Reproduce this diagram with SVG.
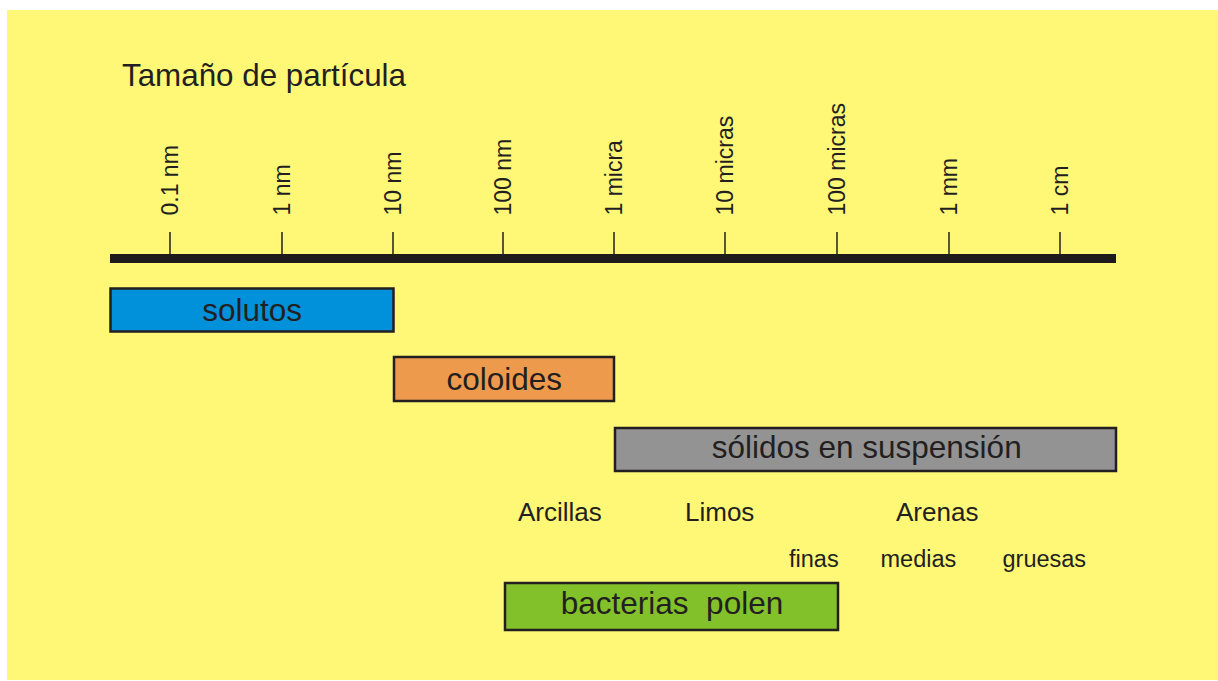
<svg xmlns="http://www.w3.org/2000/svg" width="1218" height="681" viewBox="0 0 1218 681">
  <style>
    .t { font-family: "Liberation Sans", Arial, Helvetica, sans-serif; fill: #231f20; }
    .tick { stroke: #231f20; stroke-width: 1.5; }
    .tl { font-size: 23px; }
    .box { stroke: #231f20; stroke-width: 2.5; }
    .bt { font-size: 31.5px; text-anchor: middle; }
    .lab { font-size: 26px; }
    .sub { font-size: 23.5px; }
  </style>
  <rect x="0" y="0" width="1218" height="681" fill="#ffffff"/>
  <rect x="7" y="10" width="1211" height="670" fill="#fff776"/>

  <g id="title">
    <text class="t" x="122" y="86" font-size="32" textLength="284" lengthAdjust="spacingAndGlyphs">Tamaño de partícula</text>
  </g>

  <g id="axis">
    <rect x="110" y="254" width="1006" height="9" fill="#1f1b1c"/>
    <line class="tick" x1="170" y1="232" x2="170" y2="254"/>
    <line class="tick" x1="282" y1="232" x2="282" y2="254"/>
    <line class="tick" x1="393" y1="232" x2="393" y2="254"/>
    <line class="tick" x1="503" y1="232" x2="503" y2="254"/>
    <line class="tick" x1="614" y1="232" x2="614" y2="254"/>
    <line class="tick" x1="725" y1="232" x2="725" y2="254"/>
    <line class="tick" x1="837" y1="232" x2="837" y2="254"/>
    <line class="tick" x1="949" y1="232" x2="949" y2="254"/>
    <line class="tick" x1="1060" y1="232" x2="1060" y2="254"/>
    <text class="t tl" transform="translate(177.5,215.5) rotate(-90)">0.1 nm</text>
    <text class="t tl" transform="translate(289.5,215.5) rotate(-90)">1 nm</text>
    <text class="t tl" transform="translate(400.5,215.5) rotate(-90)">10 nm</text>
    <text class="t tl" transform="translate(510.5,215.5) rotate(-90)">100 nm</text>
    <text class="t tl" transform="translate(621.5,215.5) rotate(-90)">1 micra</text>
    <text class="t tl" transform="translate(732.5,215.5) rotate(-90)">10 micras</text>
    <text class="t tl" transform="translate(844.5,215.5) rotate(-90)">100 micras</text>
    <text class="t tl" transform="translate(956.5,215.5) rotate(-90)">1 mm</text>
    <text class="t tl" transform="translate(1067.5,215.5) rotate(-90)">1 cm</text>
  </g>

  <g id="solutos">
    <rect class="box" x="110.5" y="288.5" width="283" height="43" fill="#0091da"/>
    <text class="t bt" x="252.2" y="321">solutos</text>
  </g>

  <g id="coloides">
    <rect class="box" x="394" y="357" width="220" height="44" fill="#ee9a4d"/>
    <text class="t bt" x="504.2" y="390">coloides</text>
  </g>

  <g id="solidos">
    <rect class="box" x="615" y="428" width="501" height="43" fill="#939393"/>
    <text class="t bt" x="866.7" y="457.5">sólidos en suspensión</text>
  </g>

  <g id="clases">
    <text class="t lab" x="518" y="521">Arcillas</text>
    <text class="t lab" x="685" y="521">Limos</text>
    <text class="t lab" x="896" y="521">Arenas</text>
    <text class="t sub" x="789" y="567">finas</text>
    <text class="t sub" x="880.5" y="567">medias</text>
    <text class="t sub" x="1002.5" y="567">gruesas</text>
  </g>

  <g id="bacterias">
    <rect class="box" x="505" y="583" width="333" height="47" fill="#83c12a"/>
    <text class="t bt" x="672" y="614" xml:space="preserve" style="white-space:pre">bacterias  polen</text>
  </g>

  <g id="connectors"/>
</svg>
